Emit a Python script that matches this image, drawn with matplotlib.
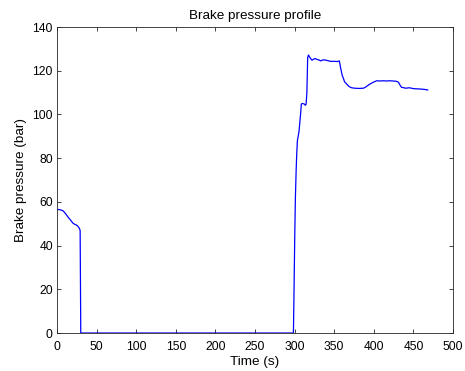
import matplotlib
matplotlib.use("Agg")
import matplotlib.pyplot as plt

# brake pressure trace
time_s = [0, 2, 5, 8, 11, 14, 17, 20, 22, 24, 26, 27, 28, 28.6, 29.2, 30, 60, 120, 200, 260, 298.5,
          299.3, 300.2, 301, 302, 302.7, 303.5, 304.5, 305.5, 306.5, 307.5, 308.5, 310, 312, 313.5, 314.5,
          315.5, 316.5, 317.5, 320, 322, 324, 326, 328, 330, 333, 336, 340, 345, 350, 354, 356.5, 358,
          360, 361.6, 363, 366, 369, 372, 376, 381, 387, 390, 393, 398, 403.6, 408, 412,
          416, 420, 424, 428, 431, 433, 435, 437, 440, 445, 450, 455, 460, 465, 468]
pressure_bar = [56.5, 56.5, 56.3, 55.8, 54.5, 53, 51.7, 50.3, 49.8, 49.5, 49, 48.5, 48, 47.5, 47, 0, 0, 0, 0, 0, 0,
                20, 45, 62, 75, 82, 88, 90, 92, 96, 100, 104.8, 105, 104.8, 104.2, 104.6,
                110, 126, 127.2, 125.6, 124.8, 125.3, 125.6, 125.2, 125, 124.5, 125, 124.8, 124.3, 124.3, 124.2, 124.5, 121.5,
                118, 116.5, 115, 113.8, 112.7, 112.2, 112, 111.9, 112, 112.6, 113.4, 114.5, 115.4, 115.3, 115.4,
                115.3, 115.4, 115.3, 115.2, 114.8, 113.5, 112.4, 112.3, 112, 112.2, 111.8, 111.7, 111.6, 111.4, 111.2]

x_ticks = list(range(0, 501, 50))
y_ticks = list(range(0, 141, 20))

plt.rcParams["font.family"] = ["Liberation Sans", "DejaVu Sans"]

fig = plt.figure(figsize=(4.65, 3.71), dpi=100)
ax = fig.add_axes([0.1226, 0.1024, 0.8516, 0.8248])
ax.plot(time_s, pressure_bar, color="#0000ff", linewidth=0.9)

ax.set_xlim(0, 500)
ax.set_ylim(0, 140)
ax.set_xticks(x_ticks)
ax.set_yticks(y_ticks)
ax.tick_params(direction="in", top=True, right=True, labelsize=8.7, length=3, width=0.6, color="#262626")
ax.tick_params(axis="x", pad=5.5)
ax.tick_params(axis="y", pad=3)
for sp in ax.spines.values():
    sp.set_linewidth(0.6)
    sp.set_color("#262626")

ax.set_xlabel("Time (s)", fontsize=9.7, labelpad=2.5)
ax.set_ylabel("Brake pressure (bar)", fontsize=9.7, labelpad=4)
ax.set_title("Brake pressure profile", fontsize=9.7, pad=5.5)

fig.savefig("out.png", dpi=100)
